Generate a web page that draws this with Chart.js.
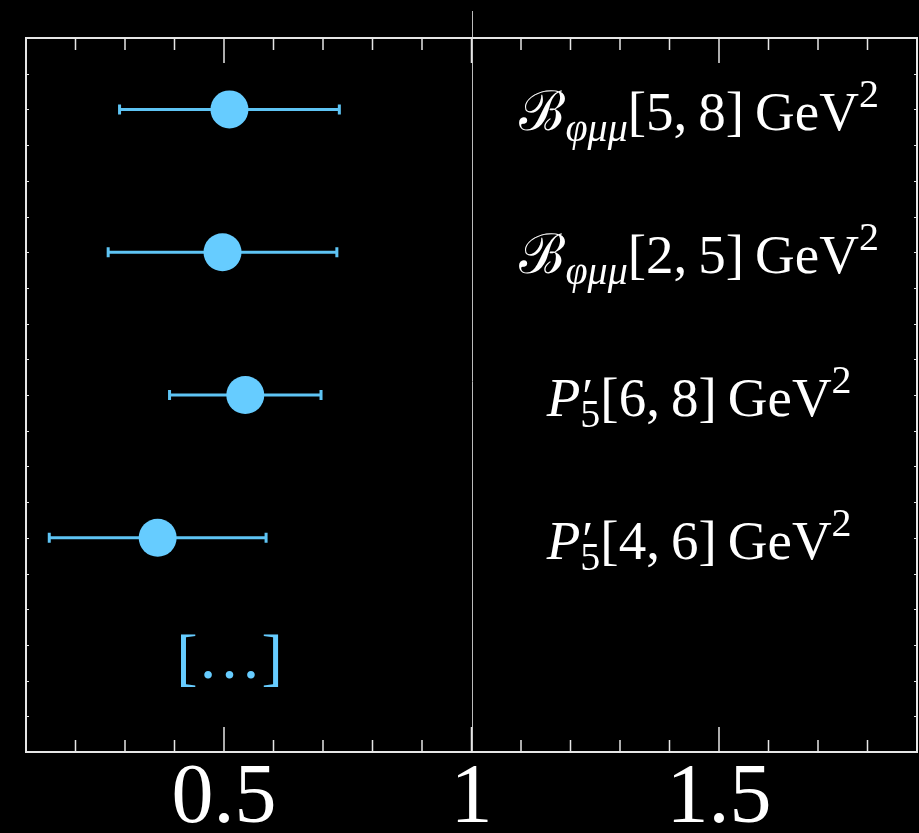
<!DOCTYPE html>
<html>
<head>
<meta charset="utf-8">
<script src="https://cdn.jsdelivr.net/npm/chart.js@4.4.1/dist/chart.umd.min.js"></script>
<style>
  html, body { margin: 0; padding: 0; background: #000; }
  #wrap { width: 919px; height: 833px; position: relative; }
</style>
</head>
<body>
<div id="wrap"><canvas id="fitChart"></canvas></div>
<script>
// measured values (central value and interval ends)
const rowPos = [2, 6, 10, 14];
const centers = [0.511, 0.497, 0.543, 0.366];
const lows = [0.289, 0.266, 0.390, 0.147];
const highs = [0.733, 0.728, 0.696, 0.585];

// label pieces: text, size factor, italic, baseline shift, advance
const labelX = 1.46;
const labels = [
    [["ℬ", 1, false, 0, true], ["φμμ", 0.72, true, 0.2, true], ["[5,\u20098]\u2009GeV", 1, false, 0, true], ["2", 0.72, false, -0.42, true]],
    [["ℬ", 1, false, 0, true], ["φμμ", 0.72, true, 0.2, true], ["[2,\u20095]\u2009GeV", 1, false, 0, true], ["2", 0.72, false, -0.42, true]],
    [["P", 1, true, 0, true], ["′", 0.9, false, -0.05, false], ["5", 0.72, false, 0.2, true], ["[6,\u20098]\u2009GeV", 1, false, 0, true], ["2", 0.72, false, -0.42, true]],
    [["P", 1, true, 0, true], ["′", 0.9, false, -0.05, false], ["5", 0.72, false, 0.2, true], ["[4,\u20096]\u2009GeV", 1, false, 0, true], ["2", 0.72, false, -0.42, true]]
];

const moreText = "[\u2026]";
const moreX = 0.511;
const moreY = 17.45;

const xMin = 0.1, xMax = 1.9, xStep = 0.1;
const xLabelValues = [0.5, 1, 1.5];
const yMin = 0, yMax = 20;
const refLine = 1;

const blue = '#66ccff';
const barBlue = '#5ec4f4';
const serif = "'Liberation Serif', 'DejaVu Serif', serif";

function majorOf(v) {
    return xLabelValues.find(m => Math.abs(m - v) < 1e-6);
}

const decorPlugin = {
    id: 'decor',
    beforeDatasetsDraw(chart) {
        const ctx = chart.ctx;
        const area = chart.chartArea;
        const xs = chart.scales.x;
        const ys = chart.scales.y;
        ctx.save();

        // line at x = 1 reaching above the frame
        ctx.strokeStyle = '#bbbbbb';
        ctx.lineWidth = 1;
        const xr = Math.round(xs.getPixelForValue(refLine)) + 0.5;
        ctx.beginPath();
        ctx.moveTo(xr, area.top - 27);
        ctx.lineTo(xr, area.bottom);
        ctx.stroke();

        // frame
        ctx.strokeStyle = '#e6e6e6';
        ctx.lineWidth = 2;
        ctx.strokeRect(area.left, area.top, area.right - area.left, area.bottom - area.top);

        // x ticks, top and bottom, pointing in
        ctx.lineWidth = 1.5;
        xs.ticks.forEach(t => {
            if (t.value <= xMin + 1e-6 || t.value >= xMax - 1e-6) return;
            const px = xs.getPixelForValue(t.value);
            const len = majorOf(t.value) !== undefined ? 25 : 12;
            ctx.beginPath();
            ctx.moveTo(px, area.top);
            ctx.lineTo(px, area.top + len);
            ctx.moveTo(px, area.bottom);
            ctx.lineTo(px, area.bottom - len);
            ctx.stroke();
        });

        // small y ticks, left and right
        ctx.lineWidth = 1;
        for (let v = yMin + 1; v < yMax; v++) {
            const py = Math.round(ys.getPixelForValue(v)) + 0.5;
            ctx.beginPath();
            ctx.moveTo(area.left, py);
            ctx.lineTo(area.left + 3, py);
            ctx.moveTo(area.right, py);
            ctx.lineTo(area.right - 3, py);
            ctx.stroke();
        }

        // error bars
        ctx.strokeStyle = barBlue;
        ctx.lineWidth = 3;
        rowPos.forEach((r, i) => {
            const py = ys.getPixelForValue(r);
            const x0 = xs.getPixelForValue(lows[i]);
            const x1 = xs.getPixelForValue(highs[i]);
            ctx.beginPath();
            ctx.moveTo(x0, py);
            ctx.lineTo(x1, py);
            ctx.moveTo(x0, py - 5);
            ctx.lineTo(x0, py + 5);
            ctx.moveTo(x1, py - 5);
            ctx.lineTo(x1, py + 5);
            ctx.stroke();
        });
        ctx.restore();
    },
    afterDatasetsDraw(chart) {
        const ctx = chart.ctx;
        const xs = chart.scales.x;
        const ys = chart.scales.y;
        const size = 55;
        ctx.save();
        ctx.fillStyle = '#ffffff';
        ctx.textBaseline = 'alphabetic';
        ctx.textAlign = 'left';

        const fontOf = p => (p[2] ? 'italic ' : '') + Math.round(size * p[1]) + 'px ' + serif;
        labels.forEach((parts, i) => {
            let total = 0;
            const widths = parts.map(p => {
                ctx.font = fontOf(p);
                const w = p[4] ? ctx.measureText(p[0]).width : 0;
                total += w;
                return w;
            });
            let x = xs.getPixelForValue(labelX) - total / 2;
            const base = ys.getPixelForValue(rowPos[i]) + 21;
            parts.forEach((p, k) => {
                ctx.font = fontOf(p);
                ctx.fillText(p[0], x + (p[4] ? 0 : 2), base + p[3] * size);
                x += widths[k];
            });
        });

        ctx.fillStyle = blue;
        ctx.textAlign = 'center';
        ctx.font = '64px ' + serif;
        ctx.fillText(moreText, xs.getPixelForValue(moreX), ys.getPixelForValue(moreY) + 17);
        ctx.restore();
    }
};

new Chart(document.getElementById('fitChart'), {
    type: 'scatter',
    data: {
        datasets: [{
            data: rowPos.map((r, i) => ({ x: centers[i], y: r })),
            backgroundColor: blue,
            borderWidth: 0,
            pointRadius: 19,
            pointHoverRadius: 19
        }]
    },
    options: {
        responsive: true,
        maintainAspectRatio: false,
        animation: false,
        layout: { autoPadding: false, padding: { top: 38, left: 26, right: 2, bottom: 2 } },
        plugins: {
            legend: { display: false },
            tooltip: { enabled: false }
        },
        scales: {
            x: {
                type: 'linear',
                min: xMin,
                max: xMax,
                grid: { display: false, drawTicks: false },
                border: { display: false },
                afterFit: function(scale) {
                    scale.height = 79;
                    scale.paddingLeft = 0;
                    scale.paddingRight = 0;
                },
                ticks: {
                    stepSize: xStep,
                    autoSkip: false,
                    maxRotation: 0,
                    padding: 16,
                    color: '#ffffff',
                    font: { family: serif, size: 84, lineHeight: 0.75 },
                    callback: function(value) {
                        const m = majorOf(value);
                        return m !== undefined ? String(m) : '';
                    }
                }
            },
            y: {
                type: 'linear',
                display: false,
                reverse: true,
                min: yMin,
                max: yMax
            }
        }
    },
    plugins: [decorPlugin]
});
</script>
</body>
</html>
